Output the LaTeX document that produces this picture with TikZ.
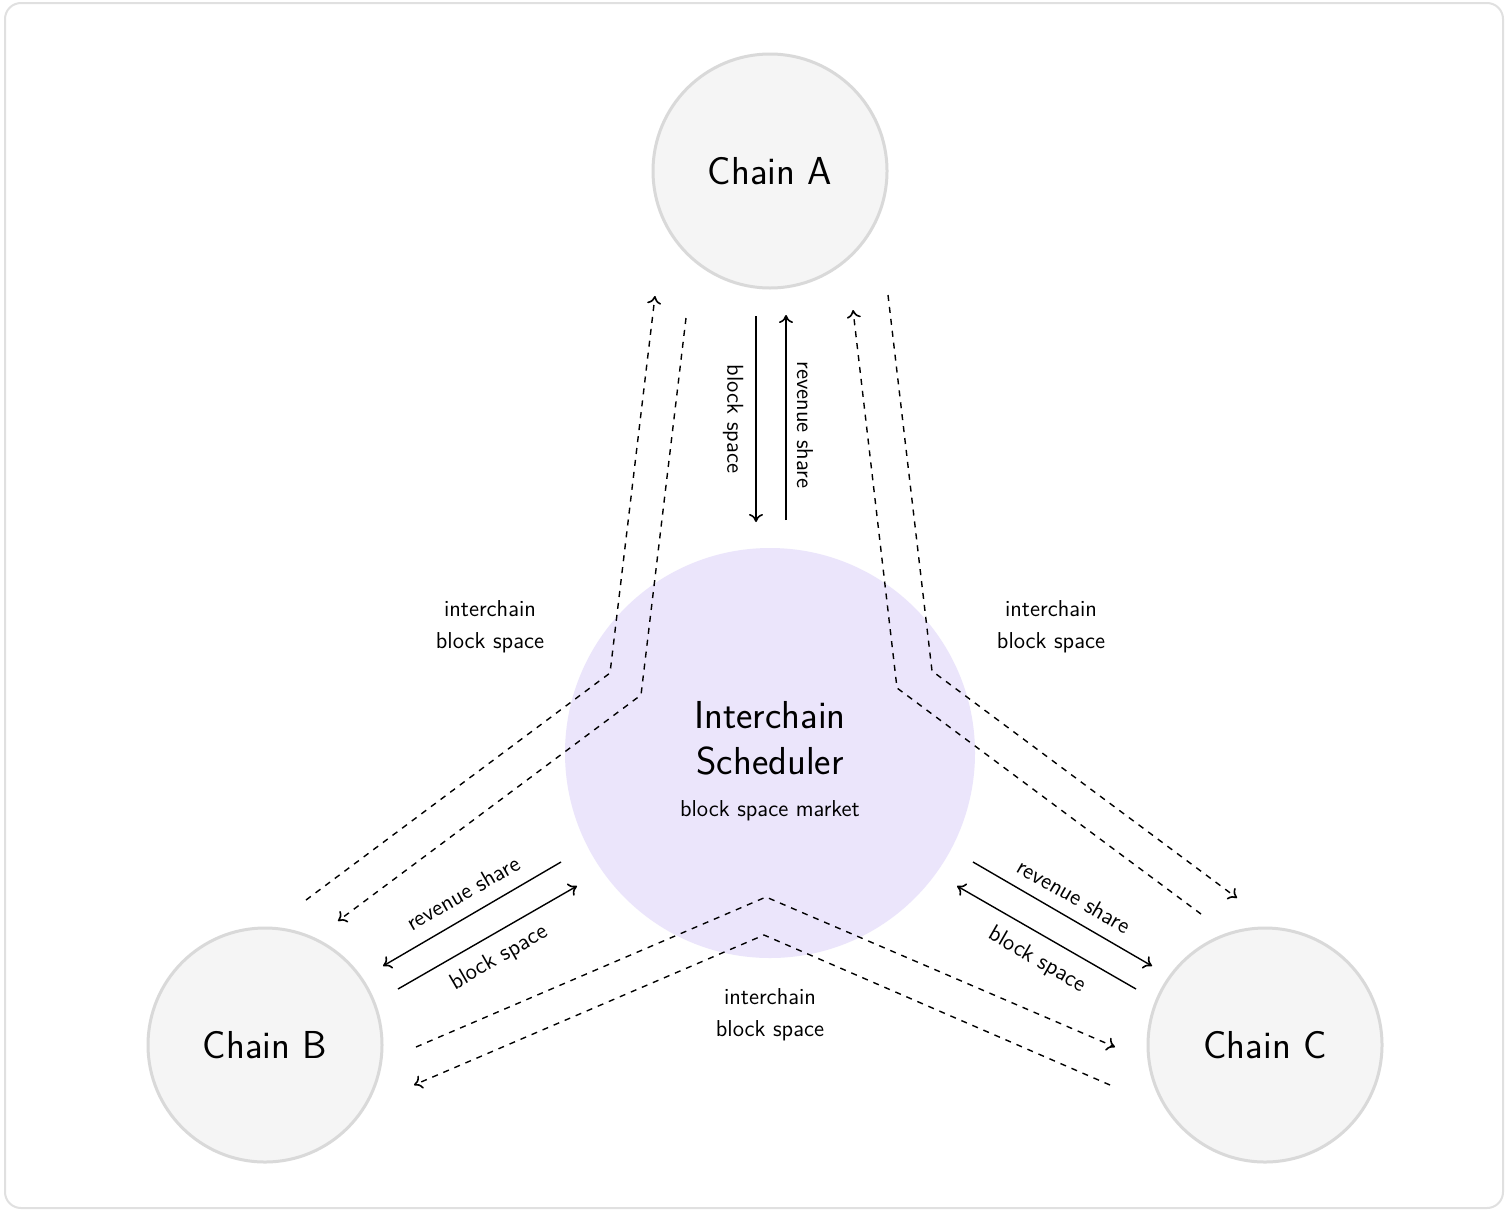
\documentclass[tikz,border=0pt]{standalone}
\usetikzlibrary{arrows.meta}
\renewcommand{\familydefault}{\sfdefault}
\definecolor{lav}{HTML}{EBE5FB}
\begin{document}
\begin{tikzpicture}[x=0.5pt,y=-0.5pt,
 chain/.style={circle,draw=black!15,line width=1.5pt,fill=black!4,minimum size=117pt,inner sep=0pt,font=\fontsize{19.5}{22}\selectfont},
 tip/.style={-{To[length=4pt,width=7pt,line width=0.8pt]}},
 dsh/.style={dashed,line width=0.7pt,tip},
 sol/.style={line width=0.7pt,tip},
 lbl/.style={font=\fontsize{11.5}{16}\selectfont,align=center}]
\useasboundingbox (0,0) rectangle (1508,1215);
\draw[black!12,line width=1pt,fill=white,rounded corners=8pt] (5,3) rectangle (1503,1208);
\node[circle,fill=lav,minimum size=205pt,inner sep=0pt] (S) at (770,753) {};
\node[font=\fontsize{19.5}{23}\selectfont,align=center] (St) at (770,738) {Interchain\\Scheduler};
\node[lbl] (Sm) at (770,811) {block space market};
\node[chain] (A) at (770,171) {Chain A};
\node[chain] (B) at (265,1045) {Chain B};
\node[chain] (C) at (1265,1045) {Chain C};
% vertical
\coordinate (a1) at (756,316); \coordinate (a2) at (756,522);
\coordinate (a3) at (786,520); \coordinate (a4) at (786,315);
\draw[sol] (a1) -- (a2); \draw[sol] (a3) -- (a4);
\node[lbl,rotate=-90] (l1) at (733,419) {block space};
\node[lbl,rotate=-90] (l2) at (805,425) {revenue share};
% dashed
\coordinate (d1) at (306,900); \coordinate (d2) at (610,673); \coordinate (d3) at (655,296);
\draw[dsh] (d1) -- (d2) -- (d3);
\coordinate (e1) at (686,318); \coordinate (e2) at (641,695); \coordinate (e3) at (338,921);
\draw[dsh] (e1) -- (e2) -- (e3);
\coordinate (f1) at (888,295); \coordinate (f2) at (932,671); \coordinate (f3) at (1237,898);
\draw[dsh] (f1) -- (f2) -- (f3);
\coordinate (g1) at (1201,914); \coordinate (g2) at (897,688); \coordinate (g3) at (853,310);
\draw[dsh] (g1) -- (g2) -- (g3);
\coordinate (h1) at (416,1047); \coordinate (h2) at (766,897); \coordinate (h3) at (1115,1047);
\draw[dsh] (h1) -- (h2) -- (h3);
\coordinate (i1) at (1110,1085); \coordinate (i2) at (764,935); \coordinate (i3) at (414,1085);
\draw[dsh] (i1) -- (i2) -- (i3);
% diagonal solid
\coordinate (b1) at (561,862); \coordinate (b2) at (383,966);
\coordinate (b3) at (398,989); \coordinate (b4) at (577,886);
\draw[sol] (b1) -- (b2); \draw[sol] (b3) -- (b4);
\node[lbl,rotate=30] (l3) at (463,893) {revenue share};
\node[lbl,rotate=30] (l4) at (499,958) {block space};
\coordinate (c1) at (973,862); \coordinate (c2) at (1152,966);
\coordinate (c3) at (1136,989); \coordinate (c4) at (957,886);
\draw[sol] (c1) -- (c2); \draw[sol] (c3) -- (c4);
\node[lbl,rotate=-30] (l5) at (1074,896) {revenue share};
\node[lbl,rotate=-30] (l6) at (1037,960) {block space};
% interchain labels
\node[lbl] (m1) at (490,627) {interchain\\block space};
\node[lbl] (m2) at (1051,627) {interchain\\block space};
\node[lbl] (m3) at (770,1015) {interchain\\block space};
\end{tikzpicture}
\end{document}
